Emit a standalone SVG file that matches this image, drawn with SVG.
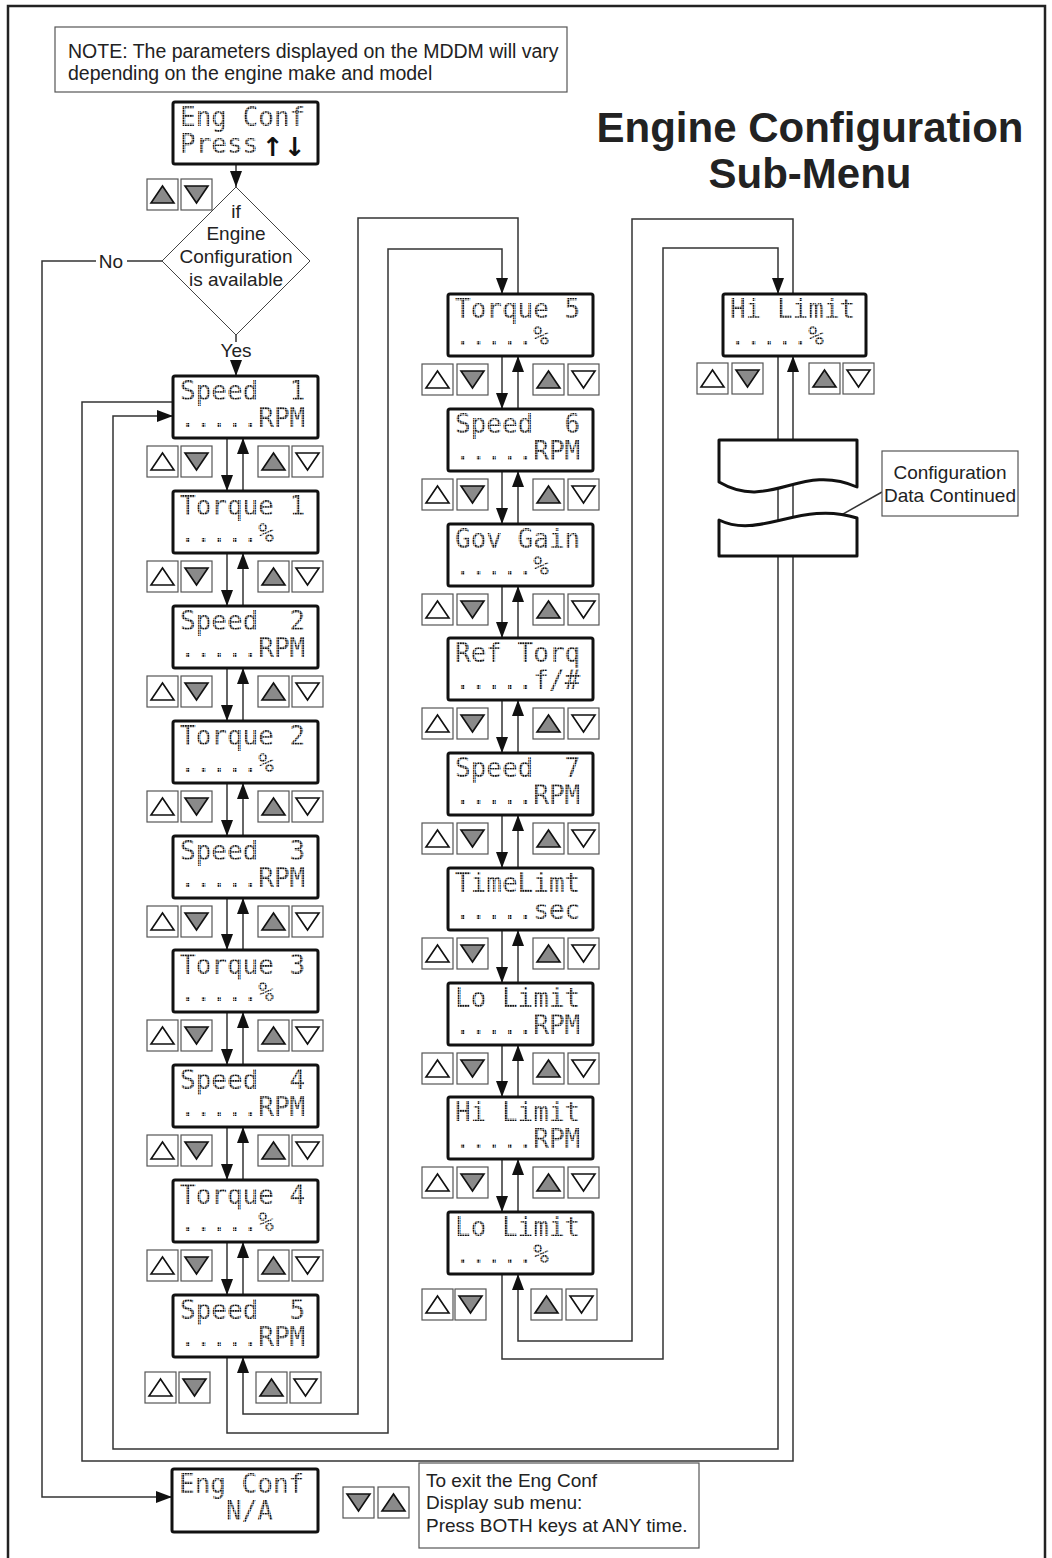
<svg xmlns="http://www.w3.org/2000/svg" width="1052" height="1558" viewBox="0 0 1052 1558">
<style>
.lcd{font-family:"DejaVu Sans Mono","Liberation Mono",monospace;font-size:26px;fill:url(#dots);white-space:pre}
.box{fill:#fff;stroke:#111;stroke-width:3}
.lbl{font-family:"Liberation Sans",Arial,sans-serif;font-size:19px;fill:#222}
.cn{fill:none;stroke:#333;stroke-width:1.5}
.thin{fill:#fff;stroke:#555;stroke-width:1.2}
.title{font-family:"Liberation Sans",Arial,sans-serif;font-size:42px;font-weight:bold;fill:#222;text-anchor:middle}
</style>
<defs>
<pattern id="dots" width="2.5" height="2.5" patternUnits="userSpaceOnUse"><rect width="1.95" height="1.95" fill="#111"/></pattern>
<marker id="arr" viewBox="0 0 16 12" refX="16" refY="6" markerWidth="16" markerHeight="12" markerUnits="userSpaceOnUse" orient="auto"><path d="M0,0 L16,6 L0,12 Z" fill="#111"/></marker>
<g id="bu"><rect x="0" y="0" width="31" height="31" fill="#fff" stroke="#555" stroke-width="1.2"/><polygon points="4,24 27,24 15.5,7" fill="#fff" stroke="#111" stroke-width="1.6"/></g>
<g id="bug"><rect x="0" y="0" width="31" height="31" fill="#fff" stroke="#555" stroke-width="1.2"/><polygon points="4,24 27,24 15.5,7" fill="#8a8a8a" stroke="#111" stroke-width="1.6"/></g>
<g id="bd"><rect x="0" y="0" width="31" height="31" fill="#fff" stroke="#555" stroke-width="1.2"/><polygon points="4,7 27,7 15.5,24" fill="#fff" stroke="#111" stroke-width="1.6"/></g>
<g id="bdg"><rect x="0" y="0" width="31" height="31" fill="#fff" stroke="#555" stroke-width="1.2"/><polygon points="4,7 27,7 15.5,24" fill="#8a8a8a" stroke="#111" stroke-width="1.6"/></g>
</defs>
<rect width="1052" height="1558" fill="#fff"/>
<path d="M8,1558 V6 H1045 V1558" fill="none" stroke="#222" stroke-width="2.5"/>

<g id="title">
<text class="title" x="810" y="142">Engine Configuration</text>
<text class="title" x="810" y="188">Sub-Menu</text>
</g>

<g id="note">
<rect x="55" y="27" width="512" height="65" class="thin"/>
<text class="lbl" x="68" y="58" style="font-size:19.5px">NOTE: The parameters displayed on the MDDM will vary</text>
<text class="lbl" x="68" y="80" style="font-size:19.5px">depending on the engine make and model</text>
</g>

<g id="connectors">
<path class="cn" d="M236,164 V187" marker-end="url(#arr)"/>
<path class="cn" d="M236,335 V342"/>
<path class="cn" d="M236,360 V376" marker-end="url(#arr)"/>
<path class="cn" d="M162,261 H127 M96,261 H42 V1497 H172" marker-end="url(#arr)"/>
<!-- column 1 -->
<path class="cn" d="M227,438 V491" marker-end="url(#arr)"/><path class="cn" d="M243,491 V438" marker-end="url(#arr)"/>
<path class="cn" d="M227,553 V606" marker-end="url(#arr)"/><path class="cn" d="M243,606 V553" marker-end="url(#arr)"/>
<path class="cn" d="M227,668 V721" marker-end="url(#arr)"/><path class="cn" d="M243,721 V668" marker-end="url(#arr)"/>
<path class="cn" d="M227,783 V836" marker-end="url(#arr)"/><path class="cn" d="M243,836 V783" marker-end="url(#arr)"/>
<path class="cn" d="M227,898 V950" marker-end="url(#arr)"/><path class="cn" d="M243,950 V898" marker-end="url(#arr)"/>
<path class="cn" d="M227,1012 V1065" marker-end="url(#arr)"/><path class="cn" d="M243,1065 V1012" marker-end="url(#arr)"/>
<path class="cn" d="M227,1127 V1180" marker-end="url(#arr)"/><path class="cn" d="M243,1180 V1127" marker-end="url(#arr)"/>
<path class="cn" d="M227,1242 V1295" marker-end="url(#arr)"/><path class="cn" d="M243,1295 V1242" marker-end="url(#arr)"/>
<!-- column 2 -->
<path class="cn" d="M502,356 V409" marker-end="url(#arr)"/><path class="cn" d="M518,409 V356" marker-end="url(#arr)"/>
<path class="cn" d="M502,471 V524" marker-end="url(#arr)"/><path class="cn" d="M518,524 V471" marker-end="url(#arr)"/>
<path class="cn" d="M502,586 V638" marker-end="url(#arr)"/><path class="cn" d="M518,638 V586" marker-end="url(#arr)"/>
<path class="cn" d="M502,700 V753" marker-end="url(#arr)"/><path class="cn" d="M518,753 V700" marker-end="url(#arr)"/>
<path class="cn" d="M502,815 V868" marker-end="url(#arr)"/><path class="cn" d="M518,868 V815" marker-end="url(#arr)"/>
<path class="cn" d="M502,930 V983" marker-end="url(#arr)"/><path class="cn" d="M518,983 V930" marker-end="url(#arr)"/>
<path class="cn" d="M502,1045 V1097" marker-end="url(#arr)"/><path class="cn" d="M518,1097 V1045" marker-end="url(#arr)"/>
<path class="cn" d="M502,1159 V1212" marker-end="url(#arr)"/><path class="cn" d="M518,1212 V1159" marker-end="url(#arr)"/>
<!-- column links -->
<path class="cn" d="M227,1357 V1433 H388 V249 H502 V294" marker-end="url(#arr)"/>
<path class="cn" d="M518,294 V218 H358 V1414 H243 V1357" marker-end="url(#arr)"/>
<path class="cn" d="M502,1274 V1359 H663 V248 H778 V294" marker-end="url(#arr)"/>
<path class="cn" d="M793,294 V219 H632 V1341 H518 V1274" marker-end="url(#arr)"/>
<!-- wrap around -->
<path class="cn" d="M778,356 V1449 H113 V416 H173" marker-end="url(#arr)"/>
<path class="cn" d="M173,402 H82 V1461 H793 V356" marker-end="url(#arr)"/>
<path class="cn" d="M882,492 L813,531" stroke-width="1"/>
</g>

<g id="no-label"><text class="lbl" x="111" y="268" text-anchor="middle">No</text></g>
<g id="yes-label"><text class="lbl" x="236" y="357" text-anchor="middle">Yes</text></g>

<g id="eng-conf-press">
<rect class="box" x="173" y="102" width="145" height="62" rx="2"/>
<text class="lcd" x="180" y="126">Eng Conf</text>
<text class="lcd" x="180" y="153">Press</text>
<text x="273" y="156" text-anchor="middle" font-family="DejaVu Sans,sans-serif" font-weight="bold" font-size="26" fill="#111">↑</text>
<text x="295" y="156" text-anchor="middle" font-family="DejaVu Sans,sans-serif" font-weight="bold" font-size="26" fill="#111">↓</text>
<use href="#bug" x="147" y="179"/><use href="#bdg" x="181" y="179"/>
</g>

<g id="decision">
<polygon points="236,187 310,261 236,335 162,261" fill="#fff" stroke="#444" stroke-width="1"/>
<text class="lbl" x="236" y="218" text-anchor="middle">if</text>
<text class="lbl" x="236" y="240" text-anchor="middle">Engine</text>
<text class="lbl" x="236" y="263" text-anchor="middle">Configuration</text>
<text class="lbl" x="236" y="286" text-anchor="middle">is available</text>
</g>

<g id="speed1"><rect class="box" x="173" y="376" width="145" height="62" rx="2"/><text class="lcd" x="180" y="400">Speed  1</text><text class="lcd" x="180" y="427">.....RPM</text>
<use href="#bu" x="147" y="446"/><use href="#bdg" x="181" y="446"/><use href="#bug" x="258" y="446"/><use href="#bd" x="292" y="446"/></g>
<g id="torque1"><rect class="box" x="173" y="491" width="145" height="62" rx="2"/><text class="lcd" x="180" y="515">Torque 1</text><text class="lcd" x="180" y="542">.....%</text>
<use href="#bu" x="147" y="561"/><use href="#bdg" x="181" y="561"/><use href="#bug" x="258" y="561"/><use href="#bd" x="292" y="561"/></g>
<g id="speed2"><rect class="box" x="173" y="606" width="145" height="62" rx="2"/><text class="lcd" x="180" y="630">Speed  2</text><text class="lcd" x="180" y="657">.....RPM</text>
<use href="#bu" x="147" y="676"/><use href="#bdg" x="181" y="676"/><use href="#bug" x="258" y="676"/><use href="#bd" x="292" y="676"/></g>
<g id="torque2"><rect class="box" x="173" y="721" width="145" height="62" rx="2"/><text class="lcd" x="180" y="745">Torque 2</text><text class="lcd" x="180" y="772">.....%</text>
<use href="#bu" x="147" y="791"/><use href="#bdg" x="181" y="791"/><use href="#bug" x="258" y="791"/><use href="#bd" x="292" y="791"/></g>
<g id="speed3"><rect class="box" x="173" y="836" width="145" height="62" rx="2"/><text class="lcd" x="180" y="860">Speed  3</text><text class="lcd" x="180" y="887">.....RPM</text>
<use href="#bu" x="147" y="906"/><use href="#bdg" x="181" y="906"/><use href="#bug" x="258" y="906"/><use href="#bd" x="292" y="906"/></g>
<g id="torque3"><rect class="box" x="173" y="950" width="145" height="62" rx="2"/><text class="lcd" x="180" y="974">Torque 3</text><text class="lcd" x="180" y="1001">.....%</text>
<use href="#bu" x="147" y="1020"/><use href="#bdg" x="181" y="1020"/><use href="#bug" x="258" y="1020"/><use href="#bd" x="292" y="1020"/></g>
<g id="speed4"><rect class="box" x="173" y="1065" width="145" height="62" rx="2"/><text class="lcd" x="180" y="1089">Speed  4</text><text class="lcd" x="180" y="1116">.....RPM</text>
<use href="#bu" x="147" y="1135"/><use href="#bdg" x="181" y="1135"/><use href="#bug" x="258" y="1135"/><use href="#bd" x="292" y="1135"/></g>
<g id="torque4"><rect class="box" x="173" y="1180" width="145" height="62" rx="2"/><text class="lcd" x="180" y="1204">Torque 4</text><text class="lcd" x="180" y="1231">.....%</text>
<use href="#bu" x="147" y="1250"/><use href="#bdg" x="181" y="1250"/><use href="#bug" x="258" y="1250"/><use href="#bd" x="292" y="1250"/></g>
<g id="speed5"><rect class="box" x="173" y="1295" width="145" height="62" rx="2"/><text class="lcd" x="180" y="1319">Speed  5</text><text class="lcd" x="180" y="1346">.....RPM</text>
<use href="#bu" x="145" y="1372"/><use href="#bdg" x="179" y="1372"/><use href="#bug" x="256" y="1372"/><use href="#bd" x="290" y="1372"/></g>

<g id="torque5"><rect class="box" x="448" y="294" width="145" height="62" rx="2"/><text class="lcd" x="455" y="318">Torque 5</text><text class="lcd" x="455" y="345">.....%</text>
<use href="#bu" x="422" y="364"/><use href="#bdg" x="457" y="364"/><use href="#bug" x="533" y="364"/><use href="#bd" x="568" y="364"/></g>
<g id="speed6"><rect class="box" x="448" y="409" width="145" height="62" rx="2"/><text class="lcd" x="455" y="433">Speed  6</text><text class="lcd" x="455" y="460">.....RPM</text>
<use href="#bu" x="422" y="479"/><use href="#bdg" x="457" y="479"/><use href="#bug" x="533" y="479"/><use href="#bd" x="568" y="479"/></g>
<g id="govgain"><rect class="box" x="448" y="524" width="145" height="62" rx="2"/><text class="lcd" x="455" y="548">Gov Gain</text><text class="lcd" x="455" y="575">.....%</text>
<use href="#bu" x="422" y="594"/><use href="#bdg" x="457" y="594"/><use href="#bug" x="533" y="594"/><use href="#bd" x="568" y="594"/></g>
<g id="reftorq"><rect class="box" x="448" y="638" width="145" height="62" rx="2"/><text class="lcd" x="455" y="662">Ref Torq</text><text class="lcd" x="455" y="689">.....f/#</text>
<use href="#bu" x="422" y="708"/><use href="#bdg" x="457" y="708"/><use href="#bug" x="533" y="708"/><use href="#bd" x="568" y="708"/></g>
<g id="speed7"><rect class="box" x="448" y="753" width="145" height="62" rx="2"/><text class="lcd" x="455" y="777">Speed  7</text><text class="lcd" x="455" y="804">.....RPM</text>
<use href="#bu" x="422" y="823"/><use href="#bdg" x="457" y="823"/><use href="#bug" x="533" y="823"/><use href="#bd" x="568" y="823"/></g>
<g id="timelimt"><rect class="box" x="448" y="868" width="145" height="62" rx="2"/><text class="lcd" x="455" y="892">TimeLimt</text><text class="lcd" x="455" y="919">.....sec</text>
<use href="#bu" x="422" y="938"/><use href="#bdg" x="457" y="938"/><use href="#bug" x="533" y="938"/><use href="#bd" x="568" y="938"/></g>
<g id="lolimit-rpm"><rect class="box" x="448" y="983" width="145" height="62" rx="2"/><text class="lcd" x="455" y="1007">Lo Limit</text><text class="lcd" x="455" y="1034">.....RPM</text>
<use href="#bu" x="422" y="1053"/><use href="#bdg" x="457" y="1053"/><use href="#bug" x="533" y="1053"/><use href="#bd" x="568" y="1053"/></g>
<g id="hilimit-rpm"><rect class="box" x="448" y="1097" width="145" height="62" rx="2"/><text class="lcd" x="455" y="1121">Hi Limit</text><text class="lcd" x="455" y="1148">.....RPM</text>
<use href="#bu" x="422" y="1167"/><use href="#bdg" x="457" y="1167"/><use href="#bug" x="533" y="1167"/><use href="#bd" x="568" y="1167"/></g>
<g id="lolimit-pct"><rect class="box" x="448" y="1212" width="145" height="62" rx="2"/><text class="lcd" x="455" y="1236">Lo Limit</text><text class="lcd" x="455" y="1263">.....%</text>
<use href="#bu" x="422" y="1289"/><use href="#bdg" x="455" y="1289"/><use href="#bug" x="531" y="1289"/><use href="#bd" x="566" y="1289"/></g>

<g id="hilimit-pct"><rect class="box" x="723" y="294" width="143" height="62" rx="2"/><text class="lcd" x="730" y="318">Hi Limit</text><text class="lcd" x="730" y="345">.....%</text>
<use href="#bu" x="697" y="363"/><use href="#bdg" x="732" y="363"/><use href="#bug" x="809" y="363"/><use href="#bd" x="843" y="363"/></g>

<g id="break-symbol">
<path d="M719,482 V440 H857 V487 C800,462 770,512 719,482 Z" fill="#fff" stroke="#111" stroke-width="3" stroke-linejoin="round"/>
<path d="M719,556 V520 C760,540 800,500 857,518 V556 Z" fill="#fff" stroke="#111" stroke-width="3" stroke-linejoin="round"/>
</g>
<g id="continued-note">
<rect x="882" y="451" width="136" height="65" class="thin"/>
<text class="lbl" x="950" y="479" text-anchor="middle">Configuration</text>
<text class="lbl" x="950" y="502" text-anchor="middle">Data Continued</text>
</g>

<g id="eng-conf-na">
<rect class="box" x="172" y="1469" width="146" height="63" rx="2"/>
<text class="lcd" x="179" y="1493">Eng Conf</text>
<text class="lcd" x="226" y="1520">N/A</text>
</g>
<g id="exit-keys"><use href="#bdg" x="343" y="1487"/><use href="#bug" x="378" y="1487"/></g>
<g id="exit-note">
<rect x="419" y="1463" width="280" height="85" class="thin"/>
<text class="lbl" x="426" y="1487">To exit the Eng Conf</text>
<text class="lbl" x="426" y="1509">Display sub menu:</text>
<text class="lbl" x="426" y="1532">Press BOTH keys at ANY time.</text>
</g>
</svg>
